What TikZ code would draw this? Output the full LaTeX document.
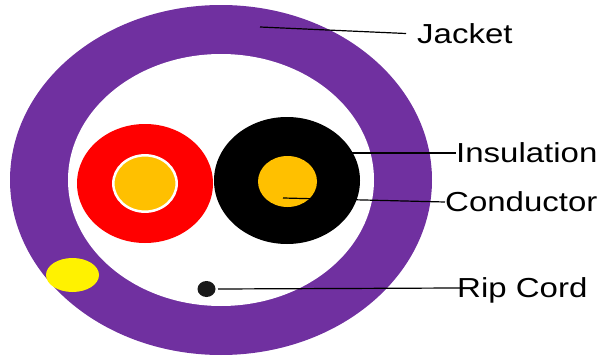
\documentclass[tikz,border=0pt]{standalone}
\usepackage{fontspec}
\setmainfont[FakeStretch=1.2]{Liberation Sans}
\definecolor{jacket}{HTML}{7030A0}
\definecolor{gold}{HTML}{FFC000}
\tikzset{lead/.style={draw=black,line width=1.2pt},lab/.style={font=\fontsize{27.5}{30}\selectfont,anchor=base west,inner sep=0pt,text height=19pt,text depth=0pt}}
\begin{document}
\begin{tikzpicture}[x=1pt,y=-1pt]
\useasboundingbox (0,0) rectangle (598,356);
\fill[jacket] (221,180) ellipse [x radius=211,y radius=175];
\fill[white] (221,180) ellipse [x radius=153,y radius=126];
\fill[yellow] (72.5,275) ellipse [x radius=26.5,y radius=17];
\fill[red] (145,183.5) ellipse [x radius=68,y radius=59.5];
\fill[gold,draw=white,line width=2.5pt] (145,183.5) ellipse [x radius=31.7,y radius=28.2];
\fill[black] (287,180.5) ellipse [x radius=73,y radius=63.5];
\fill[gold] (287.5,181.5) ellipse [x radius=29.5,y radius=25.5];
\fill[black!90] (206.5,289) ellipse [x radius=9,y radius=8];
\node[lab] (jacket) at (417,43.5) {Jacket};
\node[lab] (insul) at (456,162.5) {Insulation};
\node[lab] (cond) at (445,211.5) {Conductor};
\node[lab] (rip) at (457,297.5) {Rip Cord};
\coordinate (j) at (260,27);
\coordinate (i) at (352,153);
\coordinate (c) at (283,198);
\coordinate (r) at (218,289);
\draw[lead,shorten >=11pt] (j) -- (jacket.west);
\draw[lead] (i) -- (insul.west);
\draw[lead] (c) -- (cond.west);
\draw[lead,shorten >=-5pt] (r) -- (rip.west);
\end{tikzpicture}
\end{document}
